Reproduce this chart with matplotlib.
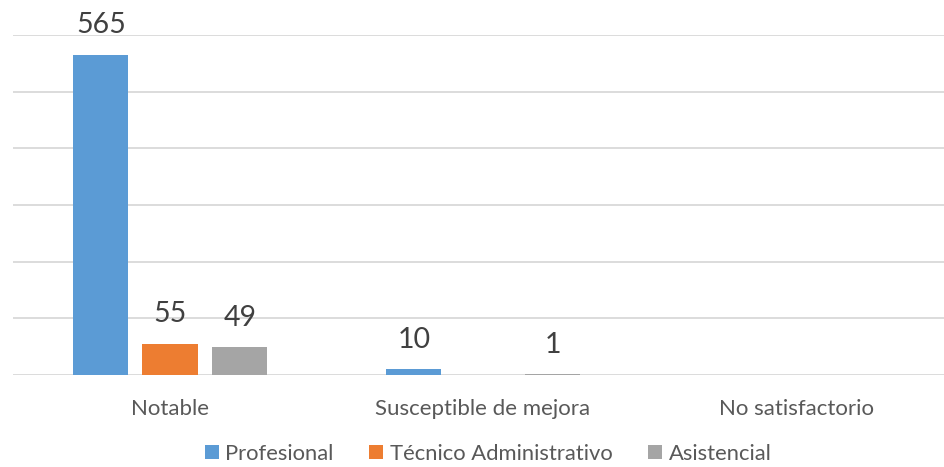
import matplotlib
matplotlib.use("Agg")
import matplotlib.pyplot as plt
import numpy as np
from matplotlib.patches import Patch

categories = ["Notable", "Susceptible de mejora", "No satisfactorio"]
series_names = ["Profesional", "Técnico Administrativo", "Asistencial"]
profesional = [565, 10, np.nan]
tecnico = [55, np.nan, np.nan]
asistencial = [49, 1, np.nan]
yticks = [0, 100, 200, 300, 400, 500, 600]

colors = ["#5B9BD5", "#ED7D31", "#A5A5A5"]
text_color = "#404040"
plt.rcParams['font.family'] = ['Lato', 'DejaVu Sans']

W, H = 945, 467
fig = plt.figure(figsize=(W / 100, H / 100), dpi=100)
ax = fig.add_axes([13 / W, (H - 375) / H, (945 - 13) / W, (375 - 35) / H])

x = np.arange(len(categories))
width = 0.176
offsets = [-0.221, 0.0, 0.223]
for vals, off, col in zip([profesional, tecnico, asistencial], offsets, colors):
    v = np.array(vals, dtype=float)
    bars = ax.bar(x + off, np.nan_to_num(v), width, color=col, zorder=3)
    for xi, val in zip(x + off, v):
        if not np.isnan(val):
            ax.annotate(f"{int(val)}", (xi, val), xytext=(0, 12), textcoords="offset points",
                        ha="center", va="bottom", fontsize=20.5, color=text_color)

ax.set_xlim(-0.5016, 2.476)
ax.set_ylim(0, 600)
ax.set_yticks(yticks)
ax.yaxis.grid(True, color="#D9D9D9", linewidth=1.3, zorder=0)
ax.tick_params(axis="y", left=False, labelleft=False)
ax.tick_params(axis="x", bottom=False, pad=14, labelsize=16, labelcolor="#595959")
ax.set_xticks(x)
ax.set_xticklabels(categories)
for s in ax.spines.values():
    s.set_visible(False)

handles = [Patch(facecolor=c, edgecolor="none") for c in colors]
leg = fig.legend(handles, series_names, loc="lower center", bbox_to_anchor=(488 / W, 0.0),
                 ncol=3, frameon=False, fontsize=15.8, labelcolor="#595959",
                 handlelength=0.65, handleheight=0.65, handletextpad=0.3, columnspacing=1.6,
                 borderpad=0.05, borderaxespad=0.1)

fig.savefig("out.png", dpi=100)
